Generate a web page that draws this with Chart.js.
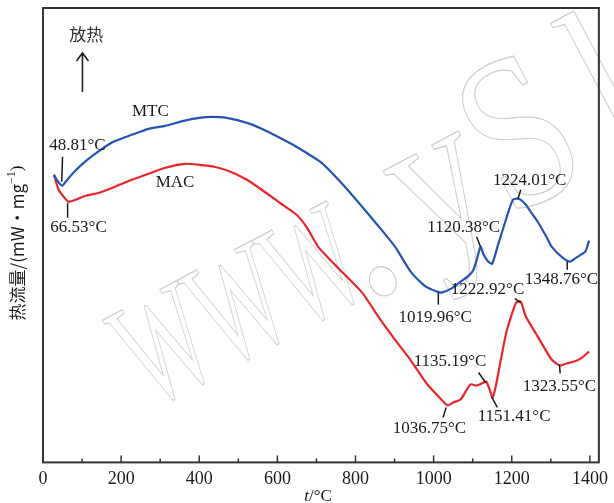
<!DOCTYPE html>
<html>
<head>
<meta charset="utf-8">
<script src="https://cdn.jsdelivr.net/npm/chart.js@4.4.1/dist/chart.umd.min.js"></script>
<style>
  html, body { margin: 0; padding: 0; background: #fff; }
  #wrap { width: 614px; height: 503px; }
</style>
</head>
<body>
<div id="wrap"><canvas id="dscChart" width="614" height="503"></canvas></div>
<script>
// DSC curves, heat flow in arbitrary units (no y tick values on the original)
const TEMP_MTC = [28, 37, 49, 60, 80, 110, 144, 180, 227, 270, 313, 360, 400, 430, 470, 522, 560, 606, 640, 674, 710, 732, 775, 817, 860, 901, 943, 980, 1009, 1020, 1045, 1069, 1090, 1102, 1112, 1120, 1128, 1140, 1150, 1165, 1185, 1203, 1218, 1236, 1250, 1268, 1290, 1302, 1330, 1349, 1365, 1388, 1398];
const HF_MTC = [2.88, 2.82, 2.77, 2.82, 2.91, 3.02, 3.12, 3.21, 3.28, 3.34, 3.37, 3.42, 3.45, 3.46, 3.45, 3.40, 3.34, 3.25, 3.18, 3.10, 3.01, 2.93, 2.75, 2.56, 2.36, 2.16, 1.90, 1.76, 1.71, 1.70, 1.74, 1.81, 1.87, 1.93, 2.05, 2.16, 2.08, 2.01, 1.99, 2.18, 2.43, 2.63, 2.64, 2.58, 2.50, 2.40, 2.25, 2.16, 2.05, 2.01, 2.05, 2.11, 2.22];

const TEMP_MAC = [28, 40, 55, 66, 90, 110, 144, 190, 227, 270, 313, 363, 400, 439, 480, 522, 560, 606, 649, 674, 706, 730, 760, 817, 860, 901, 940, 984, 1010, 1036, 1050, 1069, 1094, 1110, 1128, 1135, 1145, 1151, 1160, 1186, 1211, 1223, 1236, 1268, 1302, 1323, 1340, 1360, 1380, 1398];
const HF_MAC = [2.88, 2.73, 2.65, 2.61, 2.64, 2.67, 2.70, 2.77, 2.83, 2.89, 2.95, 2.99, 2.98, 2.96, 2.91, 2.83, 2.73, 2.60, 2.48, 2.36, 2.15, 2.05, 1.93, 1.70, 1.45, 1.23, 1.03, 0.78, 0.67, 0.57, 0.60, 0.63, 0.78, 0.77, 0.80, 0.81, 0.71, 0.65, 0.78, 1.30, 1.60, 1.61, 1.46, 1.25, 1.03, 0.97, 0.99, 1.01, 1.05, 1.11];

const X_TICKS = [0, 200, 400, 600, 800, 1000, 1200, 1400];

// peak labels: text, label centre [t, hf], leader from [t, hf] to [t, hf]
const PEAK_LABELS = [
  ['48.81°C', 88, 3.17, 50, 3.06, 48, 2.81],
  ['66.53°C', 91, 2.35, 63, 2.60, 63, 2.45],
  ['1224.01°C', 1246, 2.82, 1223, 2.73, 1216, 2.64],
  ['1120.38°C', 1077, 2.35, 1110, 2.26, 1120, 2.16],
  ['1019.96°C', 1004, 1.45, 1012, 1.70, 1012, 1.58],
  ['1222.92°C', 1138, 1.73, 1208, 1.64, 1223, 1.60],
  ['1348.76°C', 1327, 1.83, 1342, 2.01, 1342, 1.93],
  ['1135.19°C', 1042, 1.01, 1115, 0.90, 1133, 0.80],
  ['1151.41°C', 1206, 0.46, 1148, 0.66, 1163, 0.55],
  ['1036.75°C', 989, 0.34, 1032, 0.55, 1024, 0.45],
  ['1323.55°C', 1322, 0.76, 1322, 0.98, 1324, 0.89]
];
const SERIES_LABELS = [['MTC', 275, 3.51], ['MAC', 338, 2.80]];

const toXY = (ts, vs) => ts.map((t, i) => ({ x: t, y: vs[i] }));
const SERIF = '"Liberation Serif", "Times New Roman", serif';

const decorations = {
  id: 'decorations',
  beforeDatasetsDraw(chart) {
    // faint outlined watermark behind the curves
    const ctx = chart.ctx;
    ctx.save();
    ctx.strokeStyle = '#cdcdcd';
    ctx.lineWidth = 1.2;
    ctx.translate(150, 410);
    ctx.rotate(-0.49);
    ctx.save();
    ctx.scale(0.58, 1);
    ctx.font = '155px ' + SERIF;
    ctx.strokeText('WWW', 0, 0);
    ctx.restore();
    ctx.beginPath();
    ctx.ellipse(266, -4, 13, 15, 0, 0, Math.PI * 2);
    ctx.stroke();
    ctx.save();
    ctx.scale(0.8, 1);
    ctx.font = '220px ' + SERIF;
    ctx.strokeText('y', 395, 0);
    ctx.strokeText('S', 508, 0);
    ctx.strokeText('k', 665, 0);
    ctx.restore();
    ctx.restore();
  },
  afterDraw(chart) {
    const ctx = chart.ctx;
    const xs = chart.scales.x, ys = chart.scales.y;
    const a = chart.chartArea;
    ctx.save();

    // frame
    ctx.strokeStyle = '#333';
    ctx.lineWidth = 2;
    ctx.strokeRect(a.left, a.top, a.right - a.left, a.bottom - a.top);

    // inward ticks on the bottom axis
    ctx.lineWidth = 1.5;
    for (let t = 0; t <= 1400; t += 100) {
      const px = xs.getPixelForValue(t);
      const len = t % 200 === 0 ? 7 : 4;
      ctx.beginPath();
      ctx.moveTo(px, a.bottom);
      ctx.lineTo(px, a.bottom - len);
      ctx.stroke();
    }

    // peak labels with leader lines
    ctx.fillStyle = '#1a1a1a';
    ctx.strokeStyle = '#1a1a1a';
    ctx.lineWidth = 1.5;
    ctx.textAlign = 'center';
    ctx.textBaseline = 'middle';
    ctx.font = '17px ' + SERIF;
    PEAK_LABELS.forEach(([txt, tx, ty, x1, y1, x2, y2]) => {
      ctx.fillText(txt, xs.getPixelForValue(tx), ys.getPixelForValue(ty));
      ctx.beginPath();
      ctx.moveTo(xs.getPixelForValue(x1), ys.getPixelForValue(y1));
      ctx.lineTo(xs.getPixelForValue(x2), ys.getPixelForValue(y2));
      ctx.stroke();
    });
    SERIES_LABELS.forEach(([txt, tx, ty]) => {
      ctx.fillText(txt, xs.getPixelForValue(tx), ys.getPixelForValue(ty));
    });

    // exotherm direction
    ctx.font = '17px "Noto Sans CJK SC", sans-serif';
    ctx.fillStyle = '#333';
    ctx.fillText('放热', xs.getPixelForValue(111), ys.getPixelForValue(4.28));
    const ax = xs.getPixelForValue(101);
    const ay0 = ys.getPixelForValue(3.71), ay1 = ys.getPixelForValue(4.10);
    ctx.strokeStyle = '#222';
    ctx.lineWidth = 1.6;
    ctx.beginPath();
    ctx.moveTo(ax, ay0);
    ctx.lineTo(ax, ay1);
    ctx.moveTo(ax - 6, ay1 + 8);
    ctx.lineTo(ax, ay1);
    ctx.lineTo(ax + 6, ay1 + 8);
    ctx.stroke();

    // x title: italic t
    ctx.fillStyle = '#1a1a1a';
    ctx.textAlign = 'left';
    ctx.textBaseline = 'alphabetic';
    ctx.font = 'italic 17px ' + SERIF;
    const tW = ctx.measureText('t').width;
    ctx.font = '17px ' + SERIF;
    const restW = ctx.measureText('/°C').width;
    const cx = 318, by = 501;
    ctx.font = 'italic 17px ' + SERIF;
    ctx.fillText('t', cx - (tW + restW) / 2, by);
    ctx.font = '17px ' + SERIF;
    ctx.fillText('/°C', cx - (tW + restW) / 2 + tW, by);

    // y title, rotated
    ctx.save();
    ctx.translate(18, 243);
    ctx.rotate(-Math.PI / 2);
    ctx.textBaseline = 'middle';
    ctx.font = '17px "Noto Sans CJK SC", sans-serif';
    const p1 = '热流量/(mW·mg', p2 = '−1', p3 = ')';
    const w1 = ctx.measureText(p1).width;
    ctx.font = '12px ' + SERIF;
    const w2 = ctx.measureText(p2).width;
    ctx.font = '17px ' + SERIF;
    const w3 = ctx.measureText(p3).width;
    let x0 = -(w1 + w2 + w3) / 2;
    ctx.font = '17px "Noto Sans CJK SC", sans-serif';
    ctx.fillText(p1, x0, 0);
    x0 += w1;
    ctx.font = '12px ' + SERIF;
    ctx.fillText(p2, x0, -6);
    x0 += w2;
    ctx.font = '17px ' + SERIF;
    ctx.fillText(p3, x0, 0);
    ctx.restore();

    ctx.restore();
  }
};

new Chart(document.getElementById('dscChart'), {
  type: 'line',
  data: {
    datasets: [
      {
        label: 'MTC',
        data: toXY(TEMP_MTC, HF_MTC),
        borderColor: '#2553b3',
        borderWidth: 2.2,
        pointRadius: 0,
        tension: 0.2
      },
      {
        label: 'MAC',
        data: toXY(TEMP_MAC, HF_MAC),
        borderColor: '#e8262b',
        borderWidth: 2.2,
        pointRadius: 0,
        tension: 0.2
      }
    ]
  },
  options: {
    responsive: false,
    animation: false,
    layout: { autoPadding: false, padding: { left: 43, top: 8, right: 7, bottom: 7 } },
    plugins: { legend: { display: false }, tooltip: { enabled: false } },
    scales: {
      x: {
        type: 'linear',
        min: 0,
        max: 1423,
        afterBuildTicks: (scale) => { scale.ticks = X_TICKS.map(v => ({ value: v })); },
        grid: { display: false, drawTicks: false },
        border: { display: false },
        ticks: {
          padding: 6,
          color: '#1a1a1a',
          maxRotation: 0,
          callback: (v) => String(v),
          font: { family: SERIF, size: 18 }
        }
      },
      y: {
        display: false,
        min: 0,
        max: 4.55
      }
    }
  },
  plugins: [decorations]
});
</script>
</body>
</html>
